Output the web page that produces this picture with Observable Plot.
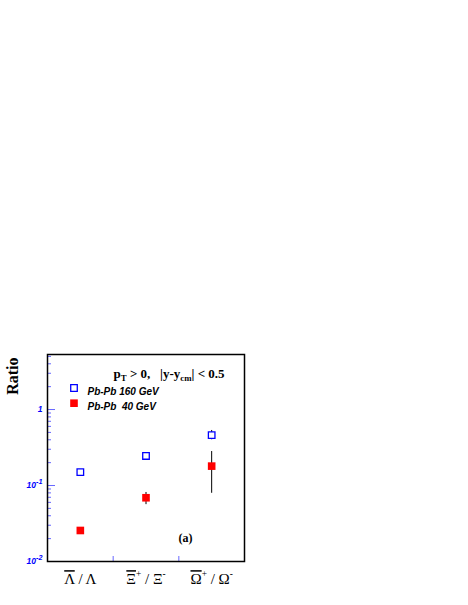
<!DOCTYPE html>
<html><head><meta charset="utf-8">
<script src="https://cdn.jsdelivr.net/npm/d3@7"></script>
<script src="https://cdn.jsdelivr.net/npm/@observablehq/plot@0.6"></script>
<style>
body{margin:0;background:#fff}
svg{display:block}
svg text{white-space:pre}
</style>
</head><body><div id="chart"></div>
<script>
// ---- data ----
const categories = ["Lambda", "Xi", "Omega"];
const xTickLabels = ["~Λ / Λ", "~Ξ^+ / Ξ^-", "~Ω^+ / Ω^-"];
const seriesNames = ["Pb-Pb 160 GeV", "Pb-Pb  40 GeV"];
const ratio160 = [0.15, 0.245, 0.46];
const ratio160Lo = [null, null, 0.40];
const ratio160Hi = [null, null, 0.53];
const ratio40 = [0.0256, 0.069, 0.18];
const ratio40Lo = [null, 0.056, 0.079];
const ratio40Hi = [null, 0.081, 0.28];
const yMajorTicks = [0.01, 0.1, 1];
const yTickLabels = ["10^{-2}", "10^{-1}", "1"];
const yMinorTicks = [0.02,0.03,0.04,0.05,0.06,0.07,0.08,0.09,0.2,0.3,0.4,0.5,0.6,0.7,0.8,0.9,2,3,4,5];
const xBinEdges = [1, 2];
const titleText = "p_{T} > 0,   |y-y_{cm}| < 0.5";
const panelTag = "(a)";
const yTitle = "Ratio";

const rows160 = categories.map((c, i) => ({i, cat: c, v: ratio160[i], lo: ratio160Lo[i], hi: ratio160Hi[i]}));
const rows40 = categories.map((c, i) => ({i, cat: c, v: ratio40[i], lo: ratio40Lo[i], hi: ratio40Hi[i]}));

const blue = "#0000ff";
const red = "#ff0000";
const innerW = 468 - 47 - 224;
const innerH = 605 - 354 - 44;

const xPos = d => d.i + 0.5;
const serif = "Liberation Serif, Times New Roman, serif";
const sans = "Liberation Sans, Arial, sans-serif";

const chart = Plot.plot({
  width: 468, height: 605,
  marginTop: 354, marginLeft: 47, marginRight: 224, marginBottom: 44,
  x: {domain: [0, 3]},
  y: {type: "log", domain: [0.01, 5.3]},
  marks: [
    Plot.tickY(yMinorTicks, {y: d => d, insetRight: innerW - 4, stroke: blue, strokeOpacity: 0.6}),
    Plot.tickY(yMajorTicks, {y: d => d, insetRight: innerW - 8, stroke: blue, strokeOpacity: 0.6}),
    Plot.tickX(xBinEdges, {x: d => d, insetTop: innerH - 5, stroke: blue, strokeOpacity: 0.6}),
    Plot.axisY({ticks: yMajorTicks, tickSize: 0, tickPadding: 5,
      tickFormat: d => yTickLabels[yMajorTicks.indexOf(d)],
      fontSize: 8.5, fontStyle: "italic", fontWeight: "bold", fontFamily: sans, fill: blue}),
    Plot.axisX({ticks: [0.5, 1.5, 2.5], tickSize: 0, tickPadding: 12,
      tickFormat: d => xTickLabels[Math.floor(d)],
      fontSize: 15, fontFamily: serif, fill: "black"}),
    Plot.ruleX(rows160.filter(d => d.lo != null), {x: xPos, y1: "lo", y2: "hi", stroke: "black", strokeWidth: 1}),
    Plot.ruleX(rows40.filter(d => d.lo != null), {x: xPos, y1: "lo", y2: "hi", stroke: "black", strokeWidth: 1}),
    Plot.dot(rows160, {x: xPos, y: "v", symbol: "square", r: 3.7, fill: "white", stroke: blue, strokeWidth: 1.3}),
    Plot.dot(rows40, {x: xPos, y: "v", symbol: "square", r: 4.3, fill: red, stroke: "none"}),
    Plot.dot([seriesNames[0]], {frameAnchor: "top-left", dx: 26.5, dy: 33.5, symbol: "square", r: 3.7, fill: "white", stroke: blue, strokeWidth: 1.3}),
    Plot.dot([seriesNames[1]], {frameAnchor: "top-left", dx: 26.5, dy: 48.7, symbol: "square", r: 4.3, fill: red}),
    Plot.text([seriesNames[0]], {frameAnchor: "top-left", dx: 40, dy: 33.5, text: d => d, textAnchor: "start",
      fontSize: 10, fontStyle: "italic", fontWeight: "bold", fontFamily: sans, fill: "black"}),
    Plot.text([seriesNames[1]], {frameAnchor: "top-left", dx: 40, dy: 48.7, text: d => d, textAnchor: "start",
      fontSize: 10, fontStyle: "italic", fontWeight: "bold", fontFamily: sans, fill: "black"}),
    Plot.text([titleText], {frameAnchor: "top-left", dx: 66, dy: 14, text: d => d, textAnchor: "start",
      fontSize: 13, fontWeight: "bold", fontFamily: serif, fill: "black"}),
    Plot.text([panelTag], {frameAnchor: "top-left", dx: 138, dy: 179, text: d => d, textAnchor: "middle",
      fontSize: 12, fontWeight: "bold", fontFamily: serif, fill: "black"}),
    Plot.text([yTitle], {frameAnchor: "top-left", dx: -41, dy: 3, rotate: -90, text: d => d, textAnchor: "end",
      fontSize: 16, fontWeight: "bold", fontFamily: serif, fill: "black"}),
    Plot.frame({stroke: "black", strokeWidth: 1.5})
  ]
});
document.getElementById("chart").appendChild(chart);

// ---- rich text (super/subscripts, overlines) ----
function parseRich(s) {
  const out = []; let i = 0;
  while (i < s.length) {
    const c = s[i];
    if (c === "^" || c === "_" || c === "~") {
      let content;
      if (s[i + 1] === "{") { const j = s.indexOf("}", i + 2); content = s.slice(i + 2, j); i = j + 1; }
      else { content = s[i + 1]; i += 2; }
      out.push({t: content, mode: c});
    } else {
      let j = i; while (j < s.length && !"^_~".includes(s[j])) j++;
      out.push({t: s.slice(i, j), mode: ""}); i = j;
    }
  }
  return out;
}
function renderRich(textEl, fs) {
  const markup = textEl.textContent;
  if (!/[\^_~]/.test(markup)) return;
  const parts = parseRich(markup);
  textEl.textContent = "";
  let shift = 0;
  const supRatio = fs < 10 ? 0.85 : 0.62;
  for (const p of parts) {
    const ts = document.createElementNS("http://www.w3.org/2000/svg", "tspan");
    let target = 0, size = fs;
    if (p.mode === "^") { target = -0.5 * fs; size = supRatio * fs; }
    else if (p.mode === "_") { target = 0.25 * fs; size = 0.68 * fs; }
    ts.setAttribute("dy", (target - shift).toFixed(2));
    shift = target;
    if (size !== fs) ts.setAttribute("font-size", size.toFixed(2));
    if (p.mode === "~") ts.setAttribute("text-decoration", "overline");
    ts.textContent = p.t;
    textEl.appendChild(ts);
  }
}
chart.querySelectorAll("text").forEach(t => {
  const fs = parseFloat(getComputedStyle(t).fontSize) || 10;
  renderRich(t, fs);
});
</script>
</body></html>
